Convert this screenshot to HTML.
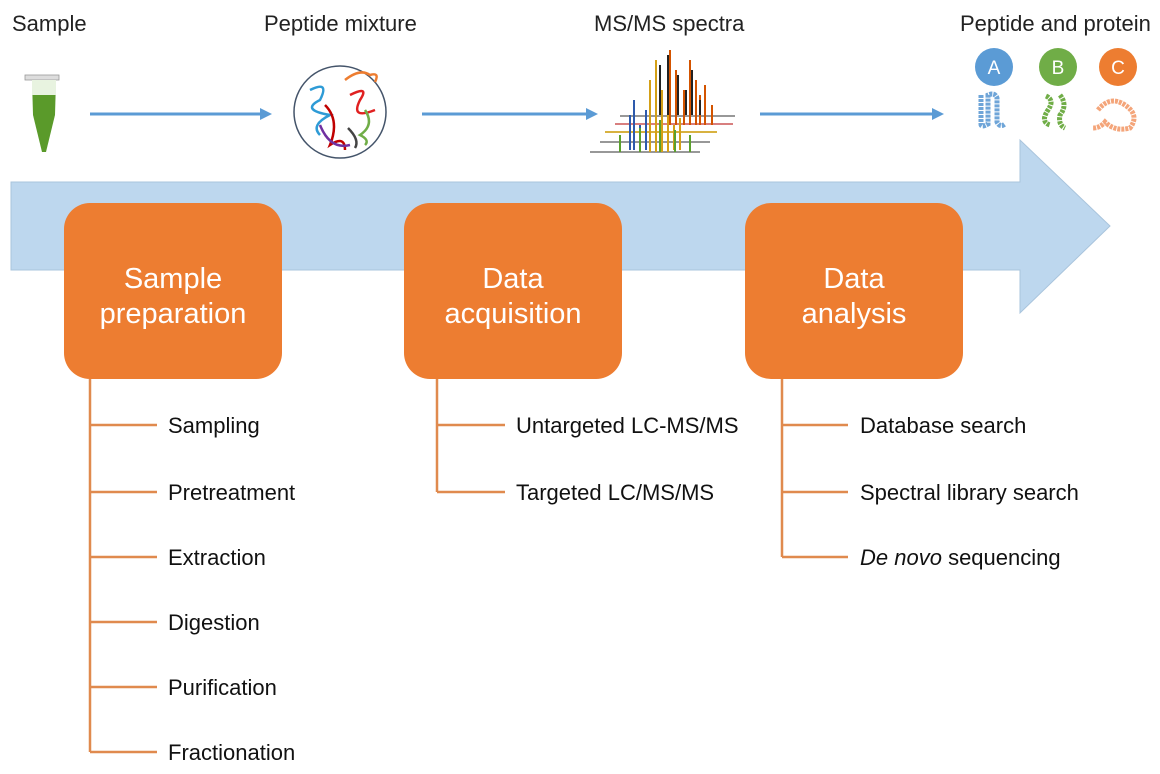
<!DOCTYPE html>
<html><head><meta charset="utf-8"><style>
body{margin:0;background:#fff;width:1160px;height:769px;overflow:hidden;font-family:"Liberation Sans",sans-serif;}
</style></head><body>
<svg width="1160" height="769" xmlns="http://www.w3.org/2000/svg" font-family="Liberation Sans, sans-serif">
<polygon points="11,182 1020,182 1020,140 1110,226 1020,313 1020,270 11,270" fill="#BDD7EE" stroke="#a9c4dc" stroke-width="1"/>
<g font-size="22" fill="#222">
<text x="12" y="31">Sample</text>
<text x="264" y="31">Peptide mixture</text>
<text x="594" y="31">MS/MS spectra</text>
<text x="960" y="31">Peptide and protein</text>
</g>
<g stroke="#5B9BD5" stroke-width="3">
<line x1="90" y1="114" x2="262" y2="114"/>
<line x1="422" y1="114" x2="588" y2="114"/>
<line x1="760" y1="114" x2="932" y2="114"/>
</g>
<g fill="#5B9BD5">
<polygon points="260,108 272,114 260,120"/>
<polygon points="586,108 598,114 586,120"/>
<polygon points="932,108 944,114 932,120"/>
</g>
<rect x="25" y="75" width="34" height="5" fill="#ddd" stroke="#999" stroke-width="0.8"/>
<path d="M32,80 L56,80 L55,115 L46,152 L42,152 L33,115 Z" fill="#5a9a2a"/>
<path d="M32,80 L56,80 L56,95 L32,95 Z" fill="#e8f3e0"/>
<circle cx="340" cy="112" r="46" fill="#fff" stroke="#44546A" stroke-width="1.5"/>
<g fill="none" stroke-width="2.5">
<path d="M310,90 Q330,80 320,100 Q300,110 330,115 Q310,125 320,135" stroke="#2E9BD6"/>
<path d="M350,95 Q370,85 360,100 Q350,120 375,110" stroke="#E02020"/>
<path d="M325,105 Q340,120 330,145 Q345,135 345,150" stroke="#C00000"/>
<path d="M320,125 Q330,150 350,145" stroke="#7030A0"/>
<path d="M345,80 Q360,68 370,75 Q380,72 375,82" stroke="#ED7D31"/>
<path d="M365,110 Q375,125 360,135 Q370,140 365,145" stroke="#70AD47"/>
<path d="M348,128 Q360,140 355,148" stroke="#444"/>
</g>
<g stroke-width="1.5">
<line x1="590" y1="152" x2="700" y2="152" stroke="#777"/>
<line x1="600" y1="142" x2="710" y2="142" stroke="#777"/>
<line x1="605" y1="132" x2="717" y2="132" stroke="#c90"/>
<line x1="615" y1="124" x2="733" y2="124" stroke="#c55"/>
<line x1="620" y1="116" x2="735" y2="116" stroke="#777"/>
</g>
<g stroke-width="2">
<path d="M630,150V115M634,150V100M640,150V125M646,150V110" stroke="#2E5AAC"/>
<path d="M650,152V80M656,152V60M662,152V90M668,152V110M674,150V125M680,150V118" stroke="#D4A017"/>
<path d="M670,125V50M676,125V70M684,125V90M690,125V60M696,125V80M700,125V95M705,125V85M712,125V105" stroke="#D35400"/>
<path d="M660,115V65M668,115V55M678,115V75M686,115V90M692,115V70M700,115V100" stroke="#222"/>
<path d="M620,152V135M640,152V128M660,152V120M675,152V130M690,152V135" stroke="#5AA02C"/>
</g>
<circle cx="994" cy="67" r="19" fill="#5B9BD5"/>
<circle cx="1058" cy="67" r="19" fill="#70AD47"/>
<circle cx="1118" cy="67" r="19" fill="#ED7D31"/>
<g font-size="19" fill="#fff" text-anchor="middle"><text x="994" y="74">A</text><text x="1058" y="74">B</text><text x="1118" y="74">C</text></g>
<g fill="none" stroke-width="5" stroke-dasharray="3 1">
<path d="M981,95 V124 Q981,128 988,124 V95 Q995,92 997,98 V122 Q1000,128 1005,124" stroke="#6fa5d8"/>
<path d="M1046,96 Q1055,100 1048,110 Q1040,122 1050,125 M1060,95 Q1068,105 1060,115 Q1058,125 1065,128" stroke="#70AD47"/>
<path d="M1098,110 Q1110,95 1125,105 Q1140,115 1130,128 Q1115,132 1105,122 Q1100,128 1093,128" stroke="#F4A57A"/>
</g>
<g fill="#ED7D31">
<rect x="64" y="203" width="218" height="176" rx="26"/>
<rect x="404" y="203" width="218" height="176" rx="26"/>
<rect x="745" y="203" width="218" height="176" rx="26"/>
</g>
<g font-size="29" fill="#fff" text-anchor="middle">
<text x="173" y="288">Sample</text><text x="173" y="323">preparation</text>
<text x="513" y="288">Data</text><text x="513" y="323">acquisition</text>
<text x="854" y="288">Data</text><text x="854" y="323">analysis</text>
</g>
<g stroke="#E08A4E" stroke-width="2.5" fill="none">
<path d="M90,379 V752 M90,425 H157 M90,492 H157 M90,557 H157 M90,622 H157 M90,687 H157 M90,752 H157"/>
<path d="M437,379 V492 M437,425 H505 M437,492 H505"/>
<path d="M782,379 V557 M782,425 H848 M782,492 H848 M782,557 H848"/>
</g>
<g font-size="22" fill="#111">
<text x="168" y="433">Sampling</text>
<text x="168" y="500">Pretreatment</text>
<text x="168" y="565">Extraction</text>
<text x="168" y="630">Digestion</text>
<text x="168" y="695">Purification</text>
<text x="168" y="760">Fractionation</text>
<text x="516" y="433">Untargeted LC-MS/MS</text>
<text x="516" y="500">Targeted LC/MS/MS</text>
<text x="860" y="433">Database search</text>
<text x="860" y="500">Spectral library search</text>
<text x="860" y="565"><tspan font-style="italic">De novo</tspan> sequencing</text>
</g>
</svg>
</body></html>
